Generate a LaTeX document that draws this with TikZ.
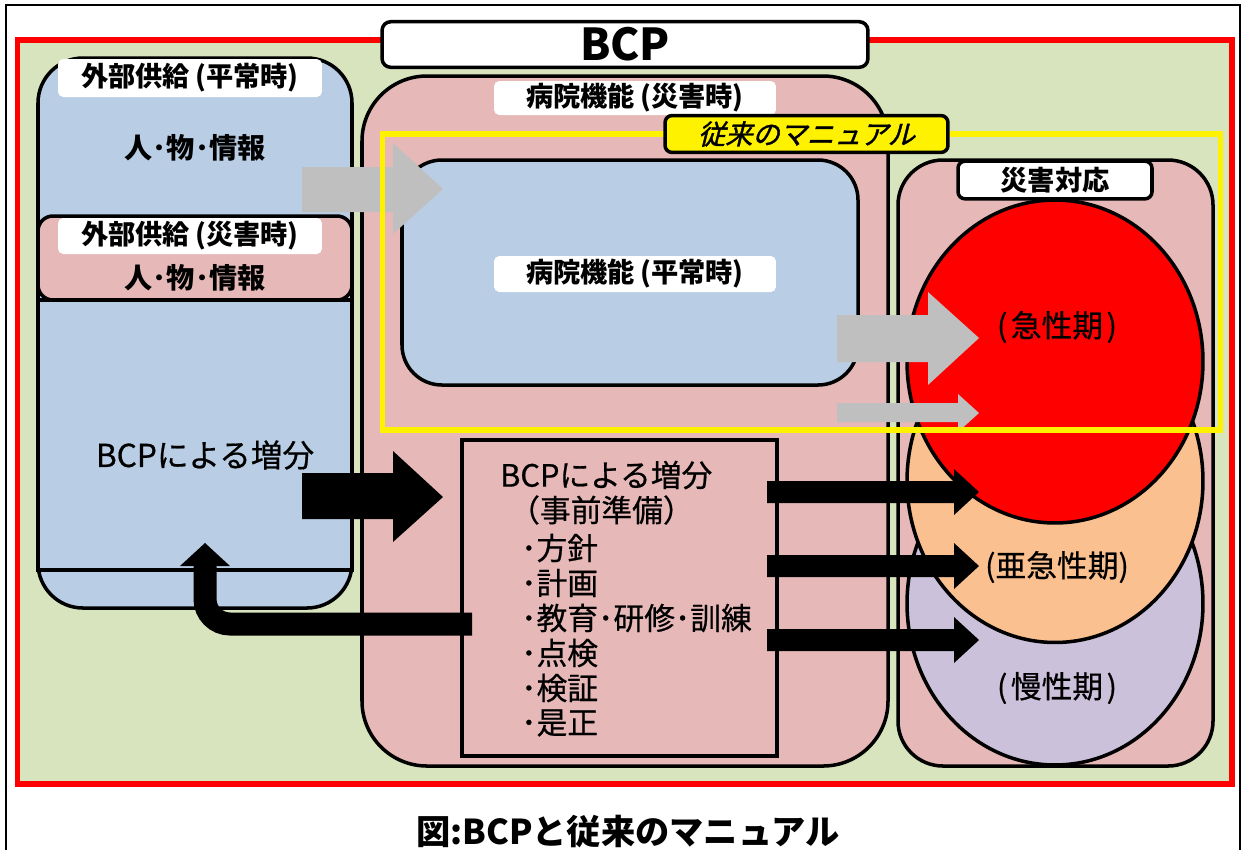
\documentclass[tikz,border=0pt]{standalone}
\usepackage{fontspec}
\setmainfont{Noto Sans CJK JP}
\newfontfamily\schraeg[FakeSlant=0.25,FakeBold=1.5]{Noto Sans CJK JP}
\newfontfamily\mittel[FakeBold=0.6]{Noto Sans CJK JP}
\definecolor{gruen}{HTML}{D7E4BD}
\definecolor{hblau}{HTML}{B9CDE5}
\definecolor{rosa}{HTML}{E6B9B8}
\definecolor{grau}{HTML}{BFBFBF}
\definecolor{aprikose}{HTML}{FAC090}
\definecolor{lila}{HTML}{CCC1DA}
\tikzset{
  rahmen/.style={draw=black, line width=2pt},
  schild/.style={fill=white, rounded corners=3pt, inner sep=0pt, font=\fontsize{15.5}{16}\selectfont\bfseries},
  gross/.style={font=\fontsize{16}{17}\selectfont\bfseries},
  normal/.style={font=\fontsize{17.5}{18}\mittel},
  phase/.style={font=\fontsize{17.5}{18}\mittel},
}
\begin{document}
\begin{tikzpicture}[x=0.02cm, y=-0.02cm]
		\useasboundingbox (0,0) rectangle (1247,850);
		\fill[white] (0,0) rectangle (1247,850);
		\draw[line width=0.8pt] (6,850) -- (6,5) -- (1240,5) -- (1240,850);
		%BCP Rahmen
		\filldraw[fill=gruen, draw=red, line width=3.2pt] (17.5,40) rectangle (1232,784);
		\node[rahmen, fill=white, rounded corners=5pt, minimum width=9.72cm, minimum height=0.9cm, font=\fontsize{25}{26}\selectfont\bfseries] (bcp) at (625,44.5) {BCP};
		%Externe Versorgung
		\filldraw[rahmen, fill=hblau, rounded corners=0.9cm] (38,58) rectangle (352,608);
		\filldraw[rahmen, fill=rosa, rounded corners=0.3cm] (38,216) rectangle (352,300);
		\filldraw[rahmen, fill=hblau] (38,300) rectangle (352,570);
		\node[schild, minimum width=5.28cm, minimum height=0.76cm] (extnorm) at (190,78) {外部供給\kern3pt(平常時)};
		\node[gross] (pers1) at (195,148) {人･物･情報};
		\node[schild, minimum width=5.28cm, minimum height=0.72cm] (extkat) at (190,236) {外部供給\kern3pt(災害時)};
		\node[gross] (pers2) at (195,278) {人･物･情報};
		\node[normal, font=\fontsize{18}{19}\mittel] (zuwachs1) at (205,455) {BCPによる増分};
		%Krankenhausfunktion
		\filldraw[rahmen, fill=rosa, rounded corners=1.3cm] (362,76) rectangle (888,766);
		\node[schild, minimum width=5.64cm, minimum height=0.68cm] (khkat) at (635,98) {病院機能\kern3pt(災害時)};
		\filldraw[rahmen, fill=hblau, rounded corners=0.8cm] (402,160) rectangle (858,385);
		\node[schild, minimum width=5.64cm, minimum height=0.72cm] (khnorm) at (635,274) {病院機能\kern3pt(平常時)};
		%Katastrophenreaktion
		\filldraw[rahmen, fill=rosa, rounded corners=0.9cm] (898,160) rectangle (1213,766);
		\node[rahmen, fill=white, rounded corners=4pt, minimum width=3.88cm, minimum height=0.72cm, font=\fontsize{15.5}{16}\selectfont\bfseries] (reakt) at (1055,180) {災害対応};
		\filldraw[rahmen, fill=lila] (1055,603.5) ellipse [x radius=2.96cm, y radius=3.23cm];
		\filldraw[rahmen, fill=aprikose] (1055,481) ellipse [x radius=2.96cm, y radius=3.23cm];
		\filldraw[rahmen, fill=red] (1055,361.5) ellipse [x radius=2.96cm, y radius=3.23cm];
		\node[phase] (akut) at (1057,327) {(\kern2pt急性期\kern2pt)};
		\node[phase] (subakut) at (1057,567) {(亜急性期)};
		\node[phase] (chron) at (1057,688) {(\kern2pt慢性期\kern2pt)};
		%Vorbereitung
		\filldraw[rahmen, fill=rosa] (462,440) rectangle (777,756);
		\node[normal, anchor=west] (zuwachs2) at (494,475) {BCPによる増分};
		\node[normal, anchor=west] (vorb) at (503,510) {（事前準備）};
		\foreach \t [count=\i] in {方針,計画,教育･研修･訓練,点検,検証,是正}
			\node[normal, anchor=west] (punkt\i) at (515,513+35*\i) {･\t};
		%Pfeile grau
		\fill[grau] (302,167) -- (393,167) -- (393,143) -- (443,189) -- (393,234) -- (393,212) -- (302,212) -- cycle;
		\fill[grau] (837,315) -- (928,315) -- (928,292) -- (979,338) -- (928,385) -- (928,362) -- (837,362) -- cycle;
		\fill[grau] (837,403) -- (958,403) -- (958,394) -- (979,413) -- (958,432) -- (958,422) -- (837,422) -- cycle;
		%Pfeile schwarz
		\fill[black] (302,473) -- (393,473) -- (393,451) -- (443,497) -- (393,542) -- (393,519) -- (302,519) -- cycle;
		\foreach \m in {492,566,640}
			\fill[black] (767,\m-11) -- (954,\m-11) -- (954,\m-23) -- (979,\m) -- (954,\m+23) -- (954,\m+11) -- (767,\m+11) -- cycle;
		\draw[line width=0.46cm, rounded corners=0.5cm] (472,624) -| (205,565);
		\fill[black] (180,566) -- (230,566) -- (205,543) -- cycle;
		%Handbuch
		\draw[yellow, line width=3.2pt] (382.5,134) rectangle (1220.5,430);
		\node[rahmen, fill=yellow, rounded corners=4pt, minimum width=5.66cm, minimum height=0.72cm, font=\fontsize{15.5}{16}\schraeg] (handbuch) at (806.5,134) {従来のマニュアル};
		%Titel
		\node[font=\fontsize{19.5}{20}\selectfont\bfseries] (titel) at (628,832) {図:BCPと従来のマニュアル};
\end{tikzpicture}
\end{document}
